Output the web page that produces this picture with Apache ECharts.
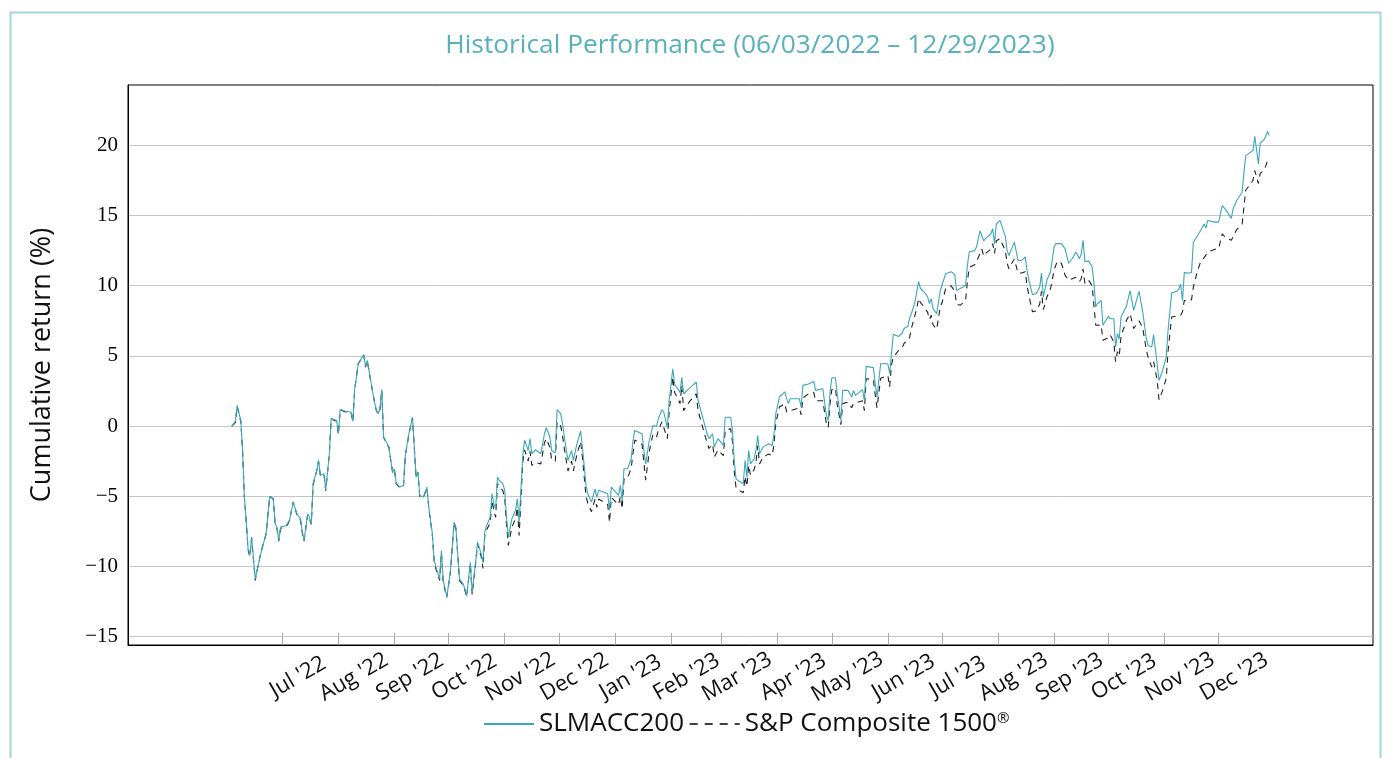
<!DOCTYPE html>
<html><head><meta charset="utf-8">
<script src="https://cdn.jsdelivr.net/npm/echarts@6/dist/echarts.min.js"></script>
<style>html,body{margin:0;padding:0;background:#fff}#c{width:1388px;height:758px}</style>
</head><body><div id="c"></div>
<script>
const dates = [
'2022-06-03','2022-06-05','2022-06-06','2022-06-08','2022-06-09','2022-06-10','2022-06-11','2022-06-12','2022-06-13','2022-06-14','2022-06-16','2022-06-17','2022-06-18','2022-06-19','2022-06-20','2022-06-21','2022-06-22','2022-06-24','2022-06-26','2022-06-27','2022-06-28','2022-06-29','2022-06-30',
'2022-07-03','2022-07-04','2022-07-05','2022-07-07','2022-07-08','2022-07-09','2022-07-11','2022-07-12','2022-07-13','2022-07-15','2022-07-16','2022-07-17','2022-07-18','2022-07-20','2022-07-21','2022-07-22','2022-07-24','2022-07-25','2022-07-27','2022-07-28','2022-07-31',
'2022-08-01','2022-08-02','2022-08-05','2022-08-08','2022-08-09','2022-08-10','2022-08-11','2022-08-12','2022-08-15','2022-08-16','2022-08-17','2022-08-19','2022-08-21','2022-08-22','2022-08-23','2022-08-24','2022-08-25','2022-08-26','2022-08-29','2022-08-30','2022-08-31',
'2022-09-01','2022-09-02','2022-09-04','2022-09-06','2022-09-07','2022-09-09','2022-09-10','2022-09-11','2022-09-12','2022-09-13','2022-09-14','2022-09-15','2022-09-17','2022-09-19','2022-09-20','2022-09-22','2022-09-23','2022-09-24','2022-09-26','2022-09-27','2022-09-28','2022-09-30',
'2022-10-01','2022-10-02','2022-10-04','2022-10-05','2022-10-07','2022-10-09','2022-10-10','2022-10-11','2022-10-13','2022-10-14','2022-10-15','2022-10-16','2022-10-17','2022-10-19','2022-10-20','2022-10-21','2022-10-22','2022-10-24','2022-10-25','2022-10-26','2022-10-27','2022-10-28','2022-10-29','2022-10-31',
'2022-11-01','2022-11-02','2022-11-03','2022-11-05','2022-11-07','2022-11-08','2022-11-09','2022-11-11','2022-11-12','2022-11-14','2022-11-15','2022-11-16','2022-11-18','2022-11-21','2022-11-23','2022-11-24','2022-11-25','2022-11-26','2022-11-27','2022-11-29','2022-11-30',
'2022-12-02','2022-12-03','2022-12-04','2022-12-06','2022-12-08','2022-12-09','2022-12-11','2022-12-13','2022-12-14','2022-12-16','2022-12-17','2022-12-19','2022-12-21','2022-12-22','2022-12-23','2022-12-28','2022-12-29','2022-12-30',
'2023-01-03','2023-01-04','2023-01-05','2023-01-06','2023-01-08','2023-01-10','2023-01-11','2023-01-12','2023-01-16','2023-01-17','2023-01-18','2023-01-20','2023-01-22','2023-01-24','2023-01-25','2023-01-27','2023-01-28','2023-01-30','2023-01-31',
'2023-02-02','2023-02-03','2023-02-06','2023-02-07','2023-02-08','2023-02-11','2023-02-13','2023-02-15','2023-02-16','2023-02-19','2023-02-21','2023-02-22','2023-02-24','2023-02-25','2023-02-27',
'2023-03-02','2023-03-03','2023-03-06','2023-03-07','2023-03-08','2023-03-09','2023-03-11','2023-03-13','2023-03-14','2023-03-15','2023-03-16','2023-03-17','2023-03-19','2023-03-20','2023-03-21','2023-03-22','2023-03-24','2023-03-27','2023-03-29','2023-03-30','2023-03-31',
'2023-04-02','2023-04-05','2023-04-06','2023-04-07','2023-04-08','2023-04-13','2023-04-14','2023-04-15','2023-04-16','2023-04-18','2023-04-21','2023-04-22','2023-04-26','2023-04-28','2023-04-29','2023-04-30',
'2023-05-01','2023-05-03','2023-05-04','2023-05-06','2023-05-07','2023-05-10','2023-05-12','2023-05-13','2023-05-14','2023-05-18','2023-05-19','2023-05-20','2023-05-24','2023-05-25','2023-05-26','2023-05-28',
'2023-06-01','2023-06-02','2023-06-03','2023-06-04','2023-06-07','2023-06-09','2023-06-10','2023-06-12','2023-06-13','2023-06-14','2023-06-16','2023-06-17','2023-06-18','2023-06-19','2023-06-21','2023-06-23','2023-06-24','2023-06-25','2023-06-26','2023-06-28','2023-06-29','2023-06-30',
'2023-07-01','2023-07-03','2023-07-06','2023-07-08','2023-07-09','2023-07-11','2023-07-14','2023-07-15','2023-07-16','2023-07-19','2023-07-20','2023-07-22','2023-07-23','2023-07-24','2023-07-25','2023-07-28','2023-07-29','2023-07-30','2023-07-31',
'2023-08-02','2023-08-03','2023-08-05','2023-08-06','2023-08-07','2023-08-08','2023-08-10','2023-08-12','2023-08-14','2023-08-16','2023-08-17','2023-08-18','2023-08-20','2023-08-22','2023-08-23','2023-08-24','2023-08-25','2023-08-26','2023-08-28','2023-08-30',
'2023-09-01','2023-09-02','2023-09-03','2023-09-05','2023-09-07','2023-09-09','2023-09-11','2023-09-13','2023-09-15','2023-09-16','2023-09-17','2023-09-18','2023-09-20','2023-09-22','2023-09-23','2023-09-24','2023-09-25','2023-09-27','2023-09-28','2023-09-29',
'2023-10-01','2023-10-02','2023-10-04','2023-10-05','2023-10-06','2023-10-07','2023-10-08','2023-10-11','2023-10-13','2023-10-15','2023-10-18','2023-10-20','2023-10-22','2023-10-23','2023-10-25','2023-10-26','2023-10-28','2023-10-29','2023-10-31',
'2023-11-02','2023-11-03','2023-11-05','2023-11-08','2023-11-09','2023-11-10','2023-11-11','2023-11-12','2023-11-14','2023-11-16','2023-11-17','2023-11-19','2023-11-21','2023-11-23','2023-11-24','2023-11-25','2023-11-26','2023-11-29',
'2023-12-01','2023-12-03','2023-12-05','2023-12-08','2023-12-09','2023-12-11','2023-12-14','2023-12-15','2023-12-16','2023-12-20','2023-12-21','2023-12-23','2023-12-24','2023-12-26','2023-12-27','2023-12-28','2023-12-29'
];

const slmacc200 = [
0,0.33,1.47,0.4,-1.75,-5.05,-6.7,-8.7,-9.2,-7.9,-10.9,-10.3,-9.7,-9.1,-8.6,-8.7,-7.7,-5.0,-5.25,-6.96,-7.2,-8.15,-7.2,
-7.1,-7.0,-6.7,-5.4,-5.5,-6.25,-6.6,-7.5,-8.15,-6.25,-6.5,-7.0,-4.1,-3.2,-2.45,-3.5,-3.4,-4.55,-1.97,0.56,0.4,
-0.55,1.18,1.06,1.0,0.35,2.6,2.7,4.44,5.1,4.25,4.68,3.14,1.71,1.12,0.88,1.23,2.6,-0.78,-1.5,-2.45,-3.28,
-3.04,-4.07,-4.35,-4.23,-2.1,-0.55,0.04,0.63,-1.5,-3.64,-3.28,-4.95,-5.06,-4.35,-5.77,-7.68,-9.58,-10.05,-10.9,-8.87,-11.0,-12.15,
-11.24,-10.3,-6.84,-7.2,-10.9,-11.24,-11.6,-12.1,-9.7,-11.84,-10.75,-9.58,-8.27,-9.1,-9.7,-7.56,-7.08,-6.5,-4.82,-5.53,-5.9,-3.64,-3.88,-4.1,
-4.58,-6.5,-7.9,-6.6,-6.0,-5.18,-6.84,-2.1,-0.98,-1.74,-0.9,-1.97,-1.69,-1.97,-0.55,-0.12,-0.12,-0.78,-1.74,-1.93,1.18,
0.88,0.17,-0.78,-2.45,-1.74,-2.45,-1.26,-0.36,-1.5,-4.23,-4.82,-5.42,-4.47,-5.06,-4.58,-4.82,-6.0,-4.35,
-4.94,-4.23,-5.3,-3.04,-3.04,-2.33,-1.03,-0.31,-0.55,-1.74,-2.69,-1.03,0.04,-0.02,0.52,1.16,1.0,-0.12,1.82,
4.08,3.0,2.4,3.47,2.3,2.66,2.9,3.14,1.82,0.4,-0.55,-0.9,-0.55,-1.5,-0.9,
-1.38,0.63,0.63,-0.31,-2.45,-3.76,-3.95,-4.1,-2.45,-3.64,-1.74,-2.69,-2.33,-1.74,-0.67,-1.97,-1.5,-1.26,-1.38,-0.55,0.88,
2.07,2.43,1.95,1.6,1.95,1.95,1.36,2.9,2.78,3.0,3.18,2.54,2.66,0.76,0.4,2.43,
3.44,3.44,2.3,0.4,2.54,2.54,2.07,2.54,2.19,2.6,1.82,4.25,4.16,3.0,2.07,4.44,
4.44,3.73,5.15,6.53,6.39,6.63,6.95,7.1,7.65,8.0,8.85,8.95,10.3,9.8,9.57,9.2,8.73,9.08,8.37,8.0,7.88,9.66,
9.66,10.85,11.0,10.8,9.66,9.8,10.02,11.45,12.4,12.5,12.75,13.9,13.92,13.2,13.35,13.7,14.06,13.0,14.4,
14.65,14.57,13.5,12.5,12.15,12.5,13.1,11.8,11.8,12.05,11.1,10.4,9.36,9.44,9.66,9.9,10.9,9.2,10.4,11.0,
12.78,13.0,13.14,13.0,12.64,11.6,11.92,12.4,11.92,12.28,13.23,11.7,11.77,11.35,10.17,8.5,8.73,8.95,7.18,7.3,
7.82,7.65,7.65,5.63,6.58,6.22,7.77,8.53,9.66,8.24,9.59,8.14,6.22,5.74,5.63,6.51,4.44,3.25,3.96,
4.9,6.81,9.47,9.61,9.78,10.1,8.95,10.93,10.9,10.93,13.1,13.5,13.93,14.4,14.12,14.65,14.72,14.53,
14.53,15.7,15.4,14.8,15.48,16.07,16.66,18.09,19.27,19.63,20.65,18.68,20.15,20.39,20.63,21.0,20.7
];

const sp1500 = [
0,0.25,1.4,0.35,-1.8,-5.1,-6.8,-8.8,-9.3,-8.0,-11.0,-10.3,-9.7,-9.1,-8.6,-8.7,-7.7,-5.0,-5.2,-7.0,-7.3,-8.2,-7.3,
-7.15,-7.0,-6.7,-5.4,-5.5,-6.3,-6.7,-7.6,-8.2,-6.3,-6.6,-7.0,-4.2,-3.2,-2.5,-3.5,-3.4,-4.6,-2.0,0.5,0.35,
-0.6,1.15,1.0,0.95,0.3,2.6,2.7,4.45,5.05,4.2,4.65,3.1,1.7,1.1,0.85,1.2,2.55,-0.8,-1.55,-2.5,-3.3,
-3.1,-4.1,-4.4,-4.3,-2.15,-0.6,0.0,0.6,-1.55,-3.7,-3.3,-5.0,-5.1,-4.4,-5.85,-7.8,-9.7,-10.2,-11.0,-9.0,-11.2,-12.2,
-11.3,-10.4,-6.9,-7.3,-11.0,-11.35,-11.7,-12.15,-9.8,-12.0,-10.9,-9.7,-8.4,-9.3,-10.15,-7.8,-7.4,-6.9,-5.3,-6.0,-6.5,-4.1,-4.3,-4.6,
-5.1,-7.0,-8.5,-7.2,-6.6,-5.8,-7.8,-2.6,-1.7,-2.5,-1.8,-2.8,-2.6,-2.7,-1.2,-0.9,-0.9,-1.5,-2.4,-2.5,0.3,
0.0,-0.7,-1.6,-3.2,-2.5,-3.2,-2.0,-1.1,-2.2,-5.0,-5.5,-6.1,-5.2,-5.8,-5.2,-5.6,-6.85,-5.1,
-5.6,-5.0,-5.9,-3.8,-3.7,-3.0,-1.9,-1.0,-1.3,-2.6,-3.85,-1.8,-0.6,-0.8,-0.3,0.3,0.2,-0.9,1.0,
3.5,2.4,1.6,2.9,1.1,1.7,2.0,2.3,1.1,-0.3,-1.2,-1.6,-1.3,-2.2,-1.7,
-2.1,-0.3,-0.2,-1.1,-3.2,-4.4,-4.6,-4.75,-3.6,-4.3,-2.8,-3.5,-3.1,-2.6,-1.4,-2.7,-2.2,-2.0,-2.1,-1.3,0.2,
1.36,1.6,1.0,0.9,1.1,1.3,0.8,2.0,2.1,2.3,2.4,1.8,1.8,0.17,-0.1,1.6,
2.6,2.7,1.5,0.1,1.6,1.7,1.3,1.6,1.5,1.8,1.1,3.37,3.3,2.2,1.3,3.4,
3.6,2.78,4.4,4.9,5.4,5.6,5.9,6.1,6.3,6.95,7.9,8.4,9.1,8.8,8.5,8.1,7.6,7.9,7.2,6.9,6.82,8.5,
8.8,9.8,10.0,9.6,8.7,8.6,8.95,10.3,11.3,11.5,11.7,12.3,12.6,12.1,12.3,12.6,13.0,12.3,13.2,
13.35,13.4,12.5,11.6,11.2,11.5,11.9,10.9,10.9,11.0,10.0,9.3,8.14,8.2,8.4,8.7,9.6,8.3,9.2,9.8,
11.1,11.5,11.75,11.6,10.75,10.4,10.5,10.6,10.3,10.5,11.2,10.17,10.4,10.0,8.6,7.18,7.3,7.2,6.11,6.0,
6.3,6.5,6.0,4.58,5.3,5.0,6.4,7.54,8.0,6.95,7.5,7.0,5.4,4.9,4.2,4.6,3.25,1.87,2.54,
3.4,5.3,7.77,7.85,7.9,7.9,8.14,8.95,8.9,9.0,9.9,10.9,11.7,12.0,12.1,12.4,12.5,12.6,
12.64,13.7,13.4,13.23,13.5,14.0,14.4,15.6,16.8,17.5,18.2,17.28,18.0,18.2,18.5,18.9,18.7
];

const monthTicks = ['2022-07-01','2022-08-01','2022-09-01','2022-10-01','2022-11-01','2022-12-01','2023-01-01','2023-02-01','2023-03-01','2023-04-01','2023-05-01','2023-06-01','2023-07-01','2023-08-01','2023-09-01','2023-10-01','2023-11-01','2023-12-01'];
const monthLabels = ["Jul '22","Aug '22","Sep '22","Oct '22","Nov '22","Dec '22","Jan '23","Feb '23","Mar '23","Apr '23","May '23","Jun '23","Jul '23","Aug '23","Sep '23","Oct '23","Nov '23","Dec '23"];
const yTicks = [-15, -10, -5, 0, 5, 10, 15, 20];
const seriesNames = ['SLMACC200', 'S&P Composite 1500®'];
const titleText = 'Historical Performance (06/03/2022 \u2013 12/29/2023)';

function toTime(s) { const p = s.split('-').map(Number); return Date.UTC(p[0], p[1] - 1, p[2]); }
const tickTimes = monthTicks.map(toTime);
const n = Math.min(dates.length, slmacc200.length, sp1500.length);
const times = dates.slice(0, n).map(toTime);
const span = times[n - 1] - times[0];
const xMin = times[0] - span * 0.1, xMax = times[n - 1] + span * 0.1;

const chart = echarts.init(document.getElementById('c'), null, { renderer: 'canvas' });
const SANS = '"Open Sans", "Noto Sans", sans-serif';
chart.setOption({
  animation: false,
  backgroundColor: '#fff',
  graphic: [
    { type: 'rect', silent: true, z: -10, shape: { x: 10.5, y: 12.5, width: 1370, height: 800 }, style: { fill: 'none', stroke: '#a3d5db', lineWidth: 2 } },
    { type: 'text', silent: true, x: 750, y: 46, style: { text: titleText, fill: '#56b1bc', fontSize: 26.3, fontFamily: SANS, align: 'center', verticalAlign: 'middle' } }
  ],
  grid: { left: 128, right: 15, top: 85, bottom: 113, show: true, borderColor: '#000', borderWidth: 1, backgroundColor: 'transparent' },
  legend: {
    data: [
      { name: seriesNames[0] },
      { name: seriesNames[1], lineStyle: { color: '#000', width: 1.4, type: [8, 7] } }
    ],
    left: 478, top: 706, itemWidth: 50, itemHeight: 14, itemGap: 5,
    itemStyle: { color: 'transparent', borderColor: 'transparent', borderWidth: 0, opacity: 0 },
    textStyle: { fontFamily: SANS, fontSize: 26, color: '#111', rich: { sup: { fontSize: 15, verticalAlign: 'top', fontFamily: SANS, color: '#111' } } },
    formatter: name => name.replace('®', '{sup|®}')
  },
  xAxis: {
    type: 'value', min: xMin, max: xMax, scale: true,
    axisLine: { show: true, onZero: false, lineStyle: { color: '#000', width: 1 } },
    axisTick: { show: true, inside: true, length: 12, customValues: tickTimes, lineStyle: { color: '#aaa' } },
    axisLabel: {
      customValues: tickTimes, rotate: 30, align: 'center', verticalAlign: 'middle', margin: 41, padding: [0, 0, 0, 36],
      fontFamily: SANS, fontSize: 22, color: '#111', hideOverlap: false, showMinLabel: true, showMaxLabel: true,
      formatter: v => { const i = tickTimes.indexOf(v); return i >= 0 ? monthLabels[i] : ''; }
    },
    splitLine: { show: false }
  },
  yAxis: {
    type: 'value', min: -15.6, max: 24.3,
    name: 'Cumulative return (%)', nameLocation: 'middle', nameGap: 72,
    nameTextStyle: { fontFamily: SANS, fontSize: 27, color: '#111' },
    axisLine: { show: true, lineStyle: { color: '#000', width: 1 } },
    axisTick: { show: false, customValues: yTicks },
    axisLabel: { customValues: yTicks, fontFamily: '"Liberation Serif", serif', fontSize: 21, color: '#000', margin: 10,
      formatter: v => String(v).replace('-', '\u2212') },
    splitLine: { show: true, lineStyle: { color: '#c6c6c6', width: 1 } }
  },
  series: [
    { name: seriesNames[0], type: 'line', symbol: 'none', showSymbol: false, z: 3,
      data: times.map((t, i) => [t, slmacc200[i]]),
      lineStyle: { color: '#3ca7b7', width: 1.1 }, itemStyle: { color: '#3ca7b7' } },
    { name: seriesNames[1], type: 'line', symbol: 'none', showSymbol: false, z: 2,
      data: times.map((t, i) => [t, sp1500[i]]),
      lineStyle: { color: '#222', width: 1.1, type: [6, 5] }, itemStyle: { color: '#222' } }
  ]
});
</script></body></html>
